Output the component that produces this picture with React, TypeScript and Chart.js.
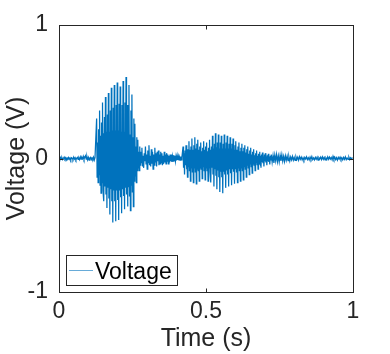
import React, { useEffect, useRef } from 'react';
import { Chart, registerables } from 'chart.js';

Chart.register(...registerables);

// ---- Text ----
const SERIES_LABEL = 'Voltage';
const X_TITLE = 'Time (s)';
const Y_TITLE = 'Voltage (V)';

// ---- Axes ----
const TIME_TICKS = [0, 0.5, 1];
const TIME_TICK_LABELS = ['0', '0.5', '1'];
const VOLT_TICKS = [-1, 0, 1];
const VOLT_TICK_LABELS = ['-1', '0', '1'];

// ---- Data: voltage samples, in segments (start time, sample step) ----
const QUIET_START_T0 = 0;
const QUIET_START_DT = 0.0025;
const quietStart = [
  0.004, -0.006, 0.008, -0.002, 0.006, -0.008, 0.002, 0.010, -0.004, 0.006,
  -0.010, 0.004, -0.002, 0.008, -0.006, 0.004, -0.010, 0.006, 0.002, -0.008,
  0.010, -0.004, 0.006, -0.010, 0.002, 0.008, -0.006, 0.004, -0.008, 0.012,
  -0.004, 0.008, -0.002, 0.016, -0.006, 0.010, 0.020, -0.004, 0.014, -0.010,
  0.008, -0.012, 0.006, 0.010, -0.008, 0.004, -0.006, 0.010, -0.012, 0.006,
];

// six samples per pitch period (~10 ms)
const BURST1_T0 = 0.128;
const BURST1_DT = 0.01 / 6;
const burst1 = [
  0.30, -0.14, 0.12, -0.18, 0.22, -0.12,
  0.36, -0.20, 0.17, -0.26, 0.27, -0.18,
  0.42, -0.24, 0.19, -0.32, 0.31, -0.21,
  0.46, -0.27, 0.20, -0.37, 0.33, -0.22,
  0.49, -0.30, 0.20, -0.42, 0.36, -0.23,
  0.53, -0.32, 0.21, -0.48, 0.38, -0.24,
  0.55, -0.32, 0.21, -0.47, 0.40, -0.24,
  0.57, -0.31, 0.21, -0.46, 0.41, -0.24,
  0.54, -0.29, 0.20, -0.41, 0.40, -0.23,
  0.58, -0.28, 0.20, -0.38, 0.42, -0.22,
  0.61, -0.27, 0.19, -0.36, 0.40, -0.21,
  0.55, -0.28, 0.18, -0.39, 0.36, -0.20,
  0.48, -0.25, 0.16, -0.36, 0.30, -0.17,
  0.26, -0.13, 0.09, -0.18, 0.16, -0.09,
  0.14, -0.07, 0.05, -0.09, 0.09, -0.05,
];

const GAP_T0 = 0.278;
const GAP_DT = 0.002;
const gap = [
  0.05, -0.03, 0.08, -0.06, 0.02, -0.07, 0.04, -0.02, 0.09, -0.04,
  0.03, -0.08, 0.06, -0.03, 0.10, -0.05, 0.02, -0.06, 0.07, -0.04,
  0.05, -0.08, 0.03, -0.05, 0.08, -0.03,
  0.04, -0.06, 0.05, -0.02, 0.06, -0.05, 0.03, -0.04, 0.05, -0.03,
  0.04, -0.05, 0.02, -0.04, 0.05, -0.03, 0.03, -0.04, 0.04, -0.02,
  0.03, -0.04, 0.02, -0.03, 0.03,
  -0.02, 0.03, -0.025, 0.015, -0.02, 0.025, -0.015, 0.02, -0.02, 0.015,
  -0.015, 0.02, -0.01, 0.015, -0.015, 0.01, -0.012, 0.015, -0.01, 0.008,
];

const BURST2_T0 = 0.422;
const BURST2_DT = 0.01 / 6;
const burst2 = [
  0.09, -0.07, 0.04, -0.12, 0.06, -0.05,
  0.10, -0.08, 0.05, -0.14, 0.07, -0.06,
  0.13, -0.09, 0.065, -0.17, 0.09, -0.07,
  0.15, -0.10, 0.065, -0.18, 0.10, -0.07,
  0.16, -0.10, 0.075, -0.19, 0.11, -0.08,
  0.14, -0.09, 0.065, -0.17, 0.09, -0.07,
  0.12, -0.08, 0.055, -0.15, 0.08, -0.06,
  0.13, -0.09, 0.065, -0.16, 0.09, -0.07,
  0.12, -0.09, 0.055, -0.17, 0.08, -0.07,
  0.14, -0.10, 0.065, -0.18, 0.09, -0.07,
  0.17, -0.12, 0.075, -0.21, 0.11, -0.08,
  0.19, -0.13, 0.085, -0.23, 0.12, -0.09,
  0.18, -0.14, 0.075, -0.25, 0.12, -0.10,
  0.17, -0.14, 0.075, -0.26, 0.11, -0.10,
  0.18, -0.12, 0.075, -0.22, 0.12, -0.09,
  0.17, -0.12, 0.075, -0.21, 0.11, -0.08,
  0.16, -0.11, 0.075, -0.20, 0.11, -0.08,
  0.15, -0.10, 0.065, -0.19, 0.10, -0.08,
  0.13, -0.10, 0.065, -0.18, 0.09, -0.07,
  0.12, -0.09, 0.055, -0.17, 0.08, -0.07,
  0.11, -0.09, 0.055, -0.16, 0.08, -0.06,
  0.10, -0.08, 0.045, -0.14, 0.07, -0.05,
  0.09, -0.07, 0.035, -0.12, 0.06, -0.04,
  0.08, -0.06, 0.03, -0.11, 0.05, -0.04,
  0.07, -0.05, 0.025, -0.09, 0.04, -0.03,
  0.06, -0.045, 0.02, -0.08, 0.035, -0.03,
  0.05, -0.04, 0.02, -0.07, 0.03, -0.025,
  0.045, -0.035, 0.015, -0.06, 0.03, -0.02,
  0.04, -0.03, 0.015, -0.05, 0.025, -0.02,
  0.035, -0.025, 0.01, -0.045, 0.02, -0.015,
];

const TAIL_T0 = 0.722;
const TAIL_DT = 0.003;
const tail = [
  0.030, -0.028, 0.022, -0.034, 0.026, -0.018, 0.030, -0.024, 0.020, -0.026,
  0.024, -0.018, 0.028, -0.020, 0.016, -0.022, 0.020, -0.014, 0.018, -0.016,
  0.014, -0.018, 0.012, -0.010, 0.016, -0.012, 0.008, -0.014, 0.012, -0.008,
  0.010, -0.012, 0.014, -0.006, 0.010, -0.010, 0.006, -0.012, 0.008, -0.004,
  0.012, -0.008, 0.006, -0.010, 0.010, -0.006, 0.014, -0.008, 0.004, -0.010,
  0.008, -0.006, 0.010, -0.012, 0.006, -0.004, 0.010, -0.008, 0.012, -0.006,
  0.008, -0.010, 0.004, -0.008, 0.012, -0.006, 0.010, -0.004, 0.008, -0.010,
  0.016, -0.006, 0.010, -0.008, 0.006, -0.012, 0.008, -0.004, 0.010, -0.008,
  0.006, -0.010, 0.008, -0.006, 0.012, -0.008, 0.004, -0.006, 0.010, -0.008,
  0.006, -0.004, 0.008,
];

const SEGMENTS = [
  { t0: QUIET_START_T0, dt: QUIET_START_DT, values: quietStart },
  { t0: BURST1_T0, dt: BURST1_DT, values: burst1 },
  { t0: GAP_T0, dt: GAP_DT, values: gap },
  { t0: BURST2_T0, dt: BURST2_DT, values: burst2 },
  { t0: TAIL_T0, dt: TAIL_DT, values: tail },
];

const LINE_COLOR = '#0072BD';
const AXIS_COLOR = '#262626';
const FONT_FAMILY = '"Liberation Sans", Arial, Helvetica, sans-serif';

const matlabFrame = {
  id: 'matlabFrame',
  afterDraw(chart: any) {
    const { ctx, chartArea, scales } = chart;
    const { left, right, top, bottom } = chartArea;
    const xs = scales.x;
    const ys = scales.y;
    ctx.save();
    ctx.strokeStyle = AXIS_COLOR;
    ctx.lineWidth = 1;
    ctx.strokeRect(left + 0.5, top + 0.5, right - left, bottom - top);
    const tl = 4;
    ctx.beginPath();
    TIME_TICKS.forEach((v) => {
      const px = Math.round(xs.getPixelForValue(v)) + 0.5;
      ctx.moveTo(px, bottom + 0.5);
      ctx.lineTo(px, bottom + 0.5 - tl);
      ctx.moveTo(px, top + 0.5);
      ctx.lineTo(px, top + 0.5 + tl);
    });
    VOLT_TICKS.forEach((v) => {
      const py = Math.round(ys.getPixelForValue(v)) + 0.5;
      ctx.moveTo(left + 0.5, py);
      ctx.lineTo(left + 0.5 + tl, py);
      ctx.moveTo(right + 0.5, py);
      ctx.lineTo(right + 0.5 - tl, py);
    });
    ctx.stroke();

    // legend (bottom-left, inside the axes)
    const lx = left + 7;
    const ly = bottom - 37;
    const lw = 111;
    const lh = 30;
    ctx.fillStyle = '#ffffff';
    ctx.fillRect(lx, ly, lw, lh);
    ctx.strokeStyle = AXIS_COLOR;
    ctx.strokeRect(lx + 0.5, ly + 0.5, lw, lh);
    ctx.strokeStyle = LINE_COLOR;
    ctx.lineWidth = 0.6;
    ctx.beginPath();
    ctx.moveTo(lx + 3, ly + 15.5);
    ctx.lineTo(lx + 27, ly + 15.5);
    ctx.stroke();
    ctx.fillStyle = '#000000';
    ctx.font = `23px ${FONT_FAMILY}`;
    ctx.textAlign = 'left';
    ctx.textBaseline = 'alphabetic';
    ctx.fillText(SERIES_LABEL, lx + 29, ly + 24);
    ctx.restore();
  },
};

export default function App() {
  const canvasRef = useRef<HTMLCanvasElement | null>(null);

  useEffect(() => {
    document.body.style.margin = '0';
    const canvas = canvasRef.current;
    if (!canvas) return;

    const points: { x: number; y: number }[] = [];
    SEGMENTS.forEach((seg) => {
      seg.values.forEach((v, i) => {
        points.push({ x: seg.t0 + i * seg.dt, y: v });
      });
    });

    const chart = new Chart(canvas, {
      type: 'line',
      data: {
        datasets: [
          {
            label: SERIES_LABEL,
            data: points,
            borderColor: LINE_COLOR,
            backgroundColor: LINE_COLOR,
            borderWidth: 1.25,
            pointRadius: 0,
            tension: 0,
            fill: false,
          },
        ],
      },
      options: {
        responsive: false,
        animation: false,
        maintainAspectRatio: false,
        layout: { padding: { left: 0, right: 37, top: 25, bottom: 0 } },
        plugins: {
          legend: { display: false },
          tooltip: { enabled: false },
        },
        scales: {
          x: {
            type: 'linear',
            min: 0,
            max: 1,
            afterBuildTicks: (s: any) => {
              s.ticks = TIME_TICKS.map((v) => ({ value: v }));
            },
            afterFit: (s: any) => {
              s.height = 62;
            },
            grid: { display: false, drawTicks: false },
            border: { display: false },
            ticks: {
              autoSkip: false,
              maxRotation: 0,
              padding: 6,
              color: AXIS_COLOR,
              font: { family: FONT_FAMILY, size: 23 },
              callback: (v: any) => {
                const i = TIME_TICKS.indexOf(Number(v));
                return i >= 0 ? TIME_TICK_LABELS[i] : '';
              },
            },
            title: {
              display: true,
              text: X_TITLE,
              color: AXIS_COLOR,
              font: { family: FONT_FAMILY, size: 25 },
              padding: { top: 0, bottom: 0 },
            },
          },
          y: {
            type: 'linear',
            min: -1,
            max: 1,
            afterBuildTicks: (s: any) => {
              s.ticks = VOLT_TICKS.map((v) => ({ value: v }));
            },
            afterFit: (s: any) => {
              s.width = 59;
            },
            grid: { display: false, drawTicks: false },
            border: { display: false },
            ticks: {
              autoSkip: false,
              padding: 11,
              color: AXIS_COLOR,
              font: { family: FONT_FAMILY, size: 23 },
              callback: (v: any) => {
                const i = VOLT_TICKS.indexOf(Number(v));
                return i >= 0 ? VOLT_TICK_LABELS[i] : '';
              },
            },
            title: {
              display: true,
              text: Y_TITLE,
              color: AXIS_COLOR,
              font: { family: FONT_FAMILY, size: 25 },
              padding: { top: 2, bottom: 0 },
            },
          },
        },
      },
      plugins: [matlabFrame],
    });

    return () => chart.destroy();
  }, []);

  return (
    <div style={{ width: 390, height: 354, background: '#ffffff' }}>
      <canvas ref={canvasRef} width={390} height={354} style={{ display: 'block' }} />
    </div>
  );
}
